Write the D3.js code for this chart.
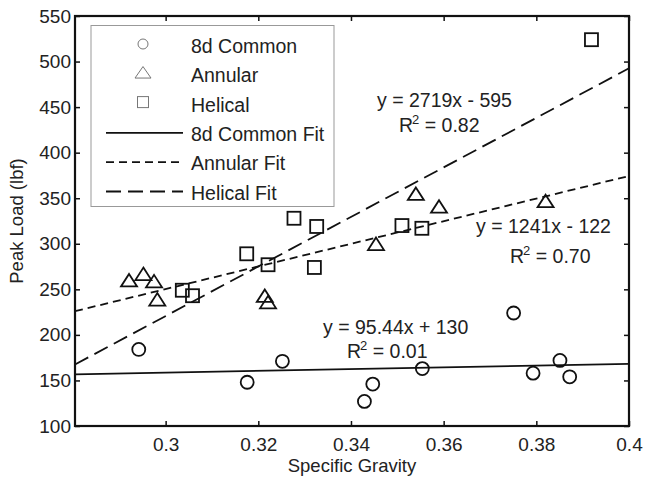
<!DOCTYPE html>
<html>
<head>
<meta charset="utf-8">
<script src="https://cdn.jsdelivr.net/npm/d3@7"></script>
<style>
  body { margin: 0; background: #fff; }
  svg text { font-family: "Liberation Sans", Arial, sans-serif; fill: #222; }
</style>
</head>
<body>
<svg id="chart" width="646" height="477"></svg>
<script>
// specific gravity / peak load (lbf)
var commonX = [0.2942, 0.3176, 0.3252, 0.3429, 0.3447, 0.3554, 0.3751, 0.3793, 0.3851, 0.3872];
var commonY = [184, 148, 171, 127, 146, 163, 224, 158, 172, 154];
var annularX = [0.2921, 0.2952, 0.2975, 0.2982, 0.3214, 0.3221, 0.3454, 0.3540, 0.3590, 0.3820];
var annularY = [260, 267, 259, 239, 243, 236, 300, 355, 341, 347];
var helicalX = [0.3036, 0.3058, 0.3175, 0.3221, 0.3277, 0.3326, 0.3321, 0.3510, 0.3553, 0.3919];
var helicalY = [249, 243, 289, 277, 328, 319, 274, 320, 317, 524];

// fitted lines: [slope, intercept]
var commonFit = [95.44, 130];
var annularFit = [1241, -122];
var helicalFit = [2719, -595];

var xTicks = [0.3, 0.32, 0.34, 0.36, 0.38, 0.4];
var yTicks = [100, 150, 200, 250, 300, 350, 400, 450, 500, 550];
var legendLabels = ["8d Common", "Annular", "Helical", "8d Common Fit", "Annular Fit", "Helical Fit"];

(function () {
    var svg = d3.select("#chart");
    var pl = 75, pr = 629, pt = 16, pb = 426;

    var x = d3.scaleLinear().domain([0.28044, 0.4]).range([pl, pr]);
    var y = d3.scaleLinear().domain([100, 550]).range([pb, pt]);

    function zip(a, b) { return a.map(function (v, i) { return [v, b[i]]; }); }

    // fit lines
    var fits = [
        { c: commonFit, dash: null },
        { c: annularFit, dash: "8,5" },
        { c: helicalFit, dash: "15,7" }
    ];
    var line = d3.line().x(function (d) { return x(d[0]); }).y(function (d) { return y(d[1]); });
    svg.append("g").selectAll("path")
        .data(fits)
      .enter().append("path")
        .attr("d", function (f) {
            return line(x.domain().map(function (v) { return [v, f.c[0] * v + f.c[1]]; }));
        })
        .attr("fill", "none")
        .attr("stroke", "#111")
        .attr("stroke-width", 1.8)
        .attr("stroke-dasharray", function (f) { return f.dash; });

    // markers
    function triPath(w, h) {
        return "M0," + (-h / 2) + "L" + (w / 2) + "," + (h / 2) + "L" + (-w / 2) + "," + (h / 2) + "Z";
    }
    var marks = svg.append("g").attr("fill", "none").attr("stroke", "#111").attr("stroke-width", 1.8);
    marks.selectAll("circle")
        .data(zip(commonX, commonY))
      .enter().append("circle")
        .attr("cx", function (d) { return x(d[0]); })
        .attr("cy", function (d) { return y(d[1]); })
        .attr("r", 6.5);
    marks.selectAll("path.tri")
        .data(zip(annularX, annularY))
      .enter().append("path")
        .attr("class", "tri")
        .attr("d", triPath(16, 12.5))
        .attr("transform", function (d) { return "translate(" + x(d[0]) + "," + y(d[1]) + ")"; });
    marks.selectAll("rect")
        .data(zip(helicalX, helicalY))
      .enter().append("rect")
        .attr("x", function (d) { return x(d[0]) - 6.5; })
        .attr("y", function (d) { return y(d[1]) - 6.5; })
        .attr("width", 13)
        .attr("height", 13);

    // axes
    var gx = svg.append("g").attr("transform", "translate(0," + pb + ")")
        .call(d3.axisBottom(x).tickValues(xTicks).tickSize(-5).tickSizeOuter(0)
            .tickFormat(function (d) { return String(d); }));
    gx.selectAll("text").attr("y", 25).attr("dy", 0);
    svg.append("g").attr("transform", "translate(" + pl + ",0)")
        .call(d3.axisLeft(y).tickValues(yTicks).tickSize(-5).tickSizeOuter(0).tickPadding(4));
    svg.append("g").attr("transform", "translate(0," + pt + ")")
        .call(d3.axisTop(x).tickValues(xTicks).tickSize(-5).tickSizeOuter(0).tickFormat(""));
    svg.append("g").attr("transform", "translate(" + pr + ",0)")
        .call(d3.axisRight(y).tickValues(yTicks).tickSize(-5).tickSizeOuter(0).tickFormat(""));
    svg.selectAll(".domain").remove();
    svg.selectAll(".tick line").attr("stroke", "#111").attr("stroke-width", 1.5);
    svg.selectAll(".tick text").attr("font-size", 19).attr("fill", "#222")
        .attr("font-family", "'Liberation Sans', Arial, sans-serif");

    svg.append("rect")
        .attr("x", pl).attr("y", pt)
        .attr("width", pr - pl).attr("height", pb - pt)
        .attr("fill", "none").attr("stroke", "#111").attr("stroke-width", 2.2);

    // axis titles
    svg.append("text")
        .attr("x", (pl + pr) / 2).attr("y", 472)
        .attr("text-anchor", "middle").attr("font-size", 18.5)
        .text("Specific Gravity");
    svg.append("text")
        .attr("transform", "translate(23," + ((pt + pb) / 2) + ") rotate(-90)")
        .attr("text-anchor", "middle").attr("font-size", 18.5)
        .text("Peak Load (lbf)");

    // equation labels
    var eqs = [
        { t: "y = 2719x - 595", r: "0.82", x: 377, y: 107, rx: 399, ry: 132 },
        { t: "y = 1241x - 122", r: "0.70", x: 476, y: 233, rx: 510, ry: 263 },
        { t: "y = 95.44x + 130", r: "0.01", x: 323, y: 334, rx: 347, ry: 358 }
    ];
    eqs.forEach(function (e) {
        svg.append("text").attr("x", e.x).attr("y", e.y).attr("font-size", 19.5).text(e.t);
        var r = svg.append("text").attr("x", e.rx).attr("y", e.ry).attr("font-size", 19.5);
        r.append("tspan").text("R");
        r.append("tspan").attr("dx", -1).attr("dy", -8).attr("font-size", 13).text("2");
        r.append("tspan").attr("dy", 8).text(" = " + e.r);
    });

    // legend
    var lg = svg.append("g");
    lg.append("rect")
        .attr("x", 91).attr("y", 25.5).attr("width", 243).attr("height", 181)
        .attr("fill", "#fff").attr("stroke", "#999").attr("stroke-width", 1);
    var rowY = d3.range(legendLabels.length).map(function (i) { return 46 + i * 29.3; });
    lg.selectAll("text")
        .data(legendLabels)
      .enter().append("text")
        .attr("x", 191)
        .attr("y", function (d, i) { return rowY[i] + 7; })
        .attr("font-size", 19.5)
        .text(function (d) { return d; });
    var mx = 143;
    lg.append("circle").attr("cx", mx).attr("cy", rowY[0] - 2).attr("r", 5)
        .attr("fill", "none").attr("stroke", "#777").attr("stroke-width", 1);
    lg.append("path").attr("d", triPath(16, 11.5))
        .attr("transform", "translate(" + mx + "," + (rowY[1] - 3) + ")")
        .attr("fill", "none").attr("stroke", "#777").attr("stroke-width", 1);
    lg.append("rect").attr("x", mx - 5.5).attr("y", rowY[2] - 8).attr("width", 11).attr("height", 11)
        .attr("fill", "none").attr("stroke", "#777").attr("stroke-width", 1);
    fits.forEach(function (f, i) {
        lg.append("line")
            .attr("x1", 106).attr("x2", 183)
            .attr("y1", rowY[3 + i] - 1).attr("y2", rowY[3 + i] - 1)
            .attr("stroke", "#111").attr("stroke-width", 1.8)
            .attr("stroke-dasharray", f.dash);
    });
})();
</script>
</body>
</html>
